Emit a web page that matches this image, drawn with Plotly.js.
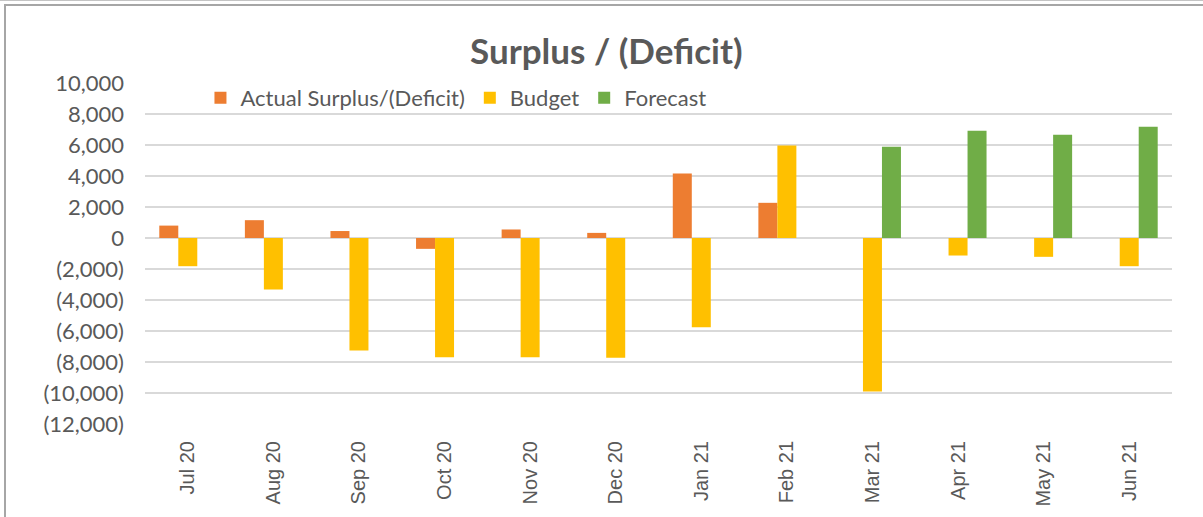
<!DOCTYPE html>
<html>
<head>
<meta charset="utf-8">
<script src="https://cdn.plot.ly/plotly-3.0.1.min.js"></script>
<style>
  html, body { margin: 0; padding: 0; background: #fff; }
  #wrap { position: relative; width: 1203px; height: 517px; overflow: hidden; }
  #chart { position: absolute; left: 0; top: 0; width: 1203px; height: 517px; }
  .ln { position: absolute; pointer-events: none; }
</style>
</head>
<body>
<div id="wrap">
  <div id="chart"></div>
  <div class="ln" style="left:0;top:0;width:1203px;height:1px;background:#c4c4c4;"></div>
  <div class="ln" style="left:4px;top:4px;width:1199px;height:2px;background:#a6a6a6;"></div>
  <div class="ln" style="left:4px;top:4px;width:2px;height:513px;background:#a6a6a6;"></div>
</div>
<script>
const months = ["Jul 20","Aug 20","Sep 20","Oct 20","Nov 20","Dec 20","Jan 21","Feb 21","Mar 21","Apr 21","May 21","Jun 21"];
const actual = [800, 1150, 450, -700, 550, 330, 4160, 2270, null, null, null, null];
const budget = [-1820, -3320, -7260, -7690, -7700, -7730, -5750, 5970, -9900, -1130, -1215, -1820];
const forecast = [null, null, null, null, null, null, null, null, 5880, 6915, 6660, 7170];
const yTickVals = [10000, 8000, 6000, 4000, 2000, 0, -2000, -4000, -6000, -8000, -10000, -12000];
const yTickText = ["10,000","8,000","6,000","4,000","2,000","0","(2,000)","(4,000)","(6,000)","(8,000)","(10,000)","(12,000)"];

const txt = '#595959';
const traces = [
  {type:'bar', name:'Actual Surplus/(Deficit)', x: months, y: actual, marker:{color:'#ED7D31'}},
  {type:'bar', name:'Budget', x: months, y: budget, marker:{color:'#FFC000'}},
  {type:'bar', name:'Forecast', x: months, y: forecast, marker:{color:'#70AD47'}}
];
const layout = {
  width: 1203, height: 517,
  margin: {l:145, r:31, t:83, b:93},
  paper_bgcolor:'#fff', plot_bgcolor:'#fff',
  barmode:'group', bargap:0.334, bargroupgap:0,
  title: {text:'<b>Surplus / (Deficit)</b>', font:{family:'Lato, sans-serif', size:35, color:txt}, x:0.504, xanchor:'center', y:0.9, yanchor:'middle', yref:'container'},
  showlegend:true,
  legend: {orientation:'h', x:0.054, xanchor:'left', y:0.956, yanchor:'middle', font:{family:'Lato, sans-serif', size:22, color:txt}, bgcolor:'rgba(0,0,0,0)', itemwidth:30, traceorder:'normal'},
  xaxis: {type:'category', tickangle:-90, tickfont:{family:'Liberation Sans, Arial, sans-serif', size:20, color:txt}, showgrid:false, zeroline:false, showline:false, ticks:'', ticklabelstandoff:12, fixedrange:true},
  yaxis: {range:[-12000, 10000], tickvals:yTickVals, ticktext:yTickText, tickfont:{family:'Lato, sans-serif', size:22, color:txt}, showgrid:true, gridcolor:'#d9d9d9', gridwidth:1.5, zeroline:true, zerolinecolor:'#d9d9d9', zerolinewidth:1.5, showline:false, ticks:'', ticklabelstandoff:20, fixedrange:true}
};
Plotly.newPlot('chart', traces, layout, {displayModeBar:false, staticPlot:true});
</script>
</body>
</html>
